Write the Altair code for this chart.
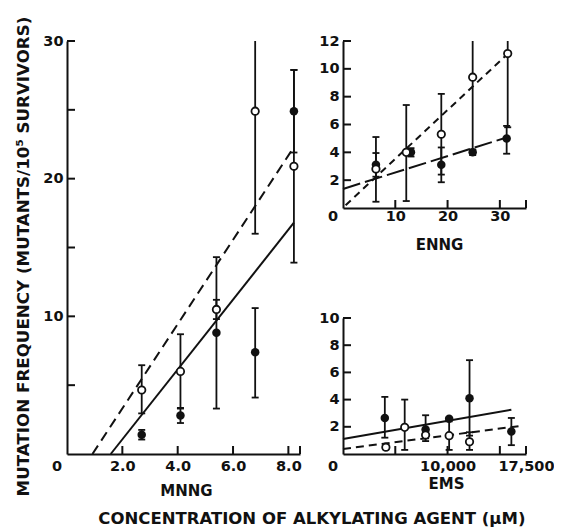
import altair as alt
import pandas as pd

FONT = "DejaVu Sans"
INK = "#111111"

# ---------------- MNNG (left panel) ----------------
mnng_open_x = [2.7, 4.1, 5.4, 6.8, 8.2]
mnng_open_y = [4.65, 6.0, 10.5, 24.9, 20.9]
mnng_open_lo = [2.95, 3.3, 9.8, 16.0, 13.9]
mnng_open_hi = [6.45, 8.7, 11.2, 30.0, 27.9]
mnng_filled_x = [2.7, 4.1, 5.4, 6.8, 8.2]
mnng_filled_y = [1.4, 2.8, 8.8, 7.4, 24.9]
mnng_filled_lo = [1.05, 2.25, 3.3, 4.1, 21.9]
mnng_filled_hi = [1.75, 3.35, 14.3, 10.6, 27.9]
mnng_fit_open_x = [0.92, 8.2]
mnng_fit_open_y = [0.0, 22.3]
mnng_fit_filled_x = [1.58, 8.2]
mnng_fit_filled_y = [0.0, 16.8]
mnng_xdomain = [0, 8.42]
mnng_ydomain = [0, 30]
mnng_xlabels = [2, 4, 6, 8]
mnng_ylabels = [10, 20, 30]
mnng_xticks = [2, 4, 6, 8, 8.42]
mnng_yticks = [5, 10, 15, 20, 25, 30]

# ---------------- ENNG (top right) ----------------
enng_open_x = [6.3, 12.1, 18.8, 24.8, 31.5]
enng_open_y = [2.8, 4.0, 5.3, 9.4, 11.1]
enng_open_lo = [0.45, 0.5, 2.4, 4.0, 5.8]
enng_open_hi = [5.1, 7.4, 8.2, 12.0, 12.0]
enng_filled_x = [6.3, 13.0, 18.8, 24.8, 31.3]
enng_filled_y = [3.1, 4.0, 3.1, 4.0, 5.0]
enng_filled_lo = [2.25, 3.7, 1.85, 3.8, 3.9]
enng_filled_hi = [3.95, 4.3, 4.35, 4.2, 5.9]
enng_fit_open_x = [0.5, 31.0]
enng_fit_open_y = [0.2, 10.9]
enng_fit_filled_x = [0.0, 31.0]
enng_fit_filled_y = [1.37, 5.03]
enng_xdomain = [0, 35]
enng_ydomain = [0, 12]
enng_xlabels = [10, 20, 30]
enng_ylabels = [2, 4, 6, 8, 10, 12]
enng_xticks = [10, 20, 30, 35]
enng_yticks = [2, 4, 6, 8, 10, 12]

# ---------------- EMS (bottom right) ----------------
ems_open_x = [4100, 5900, 7900, 10150, 12100]
ems_open_y = [0.5, 1.96, 1.4, 1.35, 0.9]
ems_open_lo = [0.35, 0.3, 1.15, 0.3, 0.3]
ems_open_hi = [0.65, 4.0, 1.65, 2.4, 1.6]
ems_filled_x = [4000, 7900, 10150, 12100, 16100]
ems_filled_y = [2.65, 1.8, 2.6, 4.1, 1.65]
ems_filled_lo = [1.2, 0.95, 2.6, 1.35, 0.65]
ems_filled_hi = [4.2, 2.85, 2.6, 6.9, 2.65]
ems_fit_open_x = [0, 17100]
ems_fit_open_y = [0.37, 2.08]
ems_fit_filled_x = [0, 16100]
ems_fit_filled_y = [1.1, 3.26]
ems_xdomain = [0, 17500]
ems_ydomain = [0, 10]
ems_xlabels = [10000, 17500]
ems_ylabels = [2, 4, 6, 8, 10]
ems_xticks = [5000, 10000, 15000, 17500]
ems_yticks = [2, 4, 6, 8, 10]


def panel(ox, oy, olo, ohi, fx, fy, flo, fhi, lox, loy, lfx, lfy,
          xdom, ydom, xlabels, ylabels, xticks, yticks, xtitle, xfmt,
          open_dash, filled_dash, width, height, title_x, title_pad,
          label_pad, origin_dy, ytitle=None):
    xscale = alt.Scale(domain=xdom, nice=False, zero=False)
    yscale = alt.Scale(domain=ydom, nice=False, zero=False)
    xaxis = alt.Axis(values=xlabels, format=xfmt, ticks=False, grid=False,
                     domainColor=INK, domainWidth=2, labelFont=FONT,
                     labelFontSize=14.5, labelFontWeight="bold", labelColor=INK,
                     labelPadding=label_pad, labelFlush=False, labelOverlap=False,
                     title=xtitle, titleFont=FONT, titleFontSize=15,
                     titleFontWeight="bold", titleColor=INK, titlePadding=title_pad,
                     titleX=title_x, titleAlign="center")
    yaxis_kw = dict(values=ylabels, ticks=False, grid=False, domainColor=INK,
                    domainWidth=2, labelFont=FONT, labelFontSize=14.5,
                    labelFontWeight="bold", labelColor=INK, labelPadding=4,
                    labelFlush=False, labelOverlap=False)
    if ytitle:
        yaxis = alt.Axis(title=ytitle, titleFont=FONT, titleFontSize=16.7,
                         titleFontWeight="bold", titleColor=INK, titlePadding=10,
                         titleY=215, titleAlign="center", **yaxis_kw)
    else:
        yaxis = alt.Axis(title=None, **yaxis_kw)

    X = lambda f: alt.X(f"{f}:Q", scale=xscale, axis=xaxis)
    Y = lambda f: alt.Y(f"{f}:Q", scale=yscale, axis=yaxis)

    pts_open = pd.DataFrame({"x": ox, "y": oy, "lo": olo, "hi": ohi})
    pts_filled = pd.DataFrame({"x": fx, "y": fy, "lo": flo, "hi": fhi})
    line_open = pd.DataFrame({"x": lox, "y": loy})
    line_filled = pd.DataFrame({"x": lfx, "y": lfy})

    caps = []
    for df in (pts_open, pts_filled):
        for _, r in df.iterrows():
            for v in (r["lo"], r["hi"]):
                if v < ydom[1] and abs(v - r["y"]) > 1e-9:
                    caps.append({"x": r["x"], "y": v})
    caps = pd.DataFrame(caps)

    ytick_df = pd.DataFrame({"x": [xdom[0]] * len(yticks), "y": yticks})
    xtick_df = pd.DataFrame({"x": xticks, "y": [ydom[0]] * len(xticks)})
    origin = pd.DataFrame({"x": [xdom[0]], "y": [ydom[0]], "t": ["0"]})

    lo_kw = dict(color=INK, strokeWidth=2)
    if open_dash:
        lo_kw["strokeDash"] = open_dash
    lf_kw = dict(color=INK, strokeWidth=2)
    if filled_dash:
        lf_kw["strokeDash"] = filled_dash

    layers = [
        alt.Chart(line_open).mark_line(**lo_kw).encode(x=X("x"), y=Y("y")),
        alt.Chart(line_filled).mark_line(**lf_kw).encode(x=X("x"), y=Y("y")),
        alt.Chart(pts_open).mark_rule(color=INK, strokeWidth=1.8).encode(
            x=X("x"), y=Y("lo"), y2="hi"),
        alt.Chart(pts_filled).mark_rule(color=INK, strokeWidth=1.8).encode(
            x=X("x"), y=Y("lo"), y2="hi"),
        alt.Chart(caps).mark_tick(orient="horizontal", size=7, thickness=1.8,
                                  color=INK, opacity=1).encode(x=X("x"), y=Y("y")),
        alt.Chart(pts_filled).mark_point(shape="circle", filled=True, size=72,
                                         color=INK, opacity=1).encode(x=X("x"), y=Y("y")),
        alt.Chart(pts_open).mark_point(shape="circle", filled=True, size=55,
                                       fill="white", stroke=INK, strokeWidth=1.8,
                                       opacity=1).encode(x=X("x"), y=Y("y")),
        alt.Chart(ytick_df).mark_tick(orient="horizontal", size=8, thickness=2,
                                      xOffset=4, color=INK, opacity=1).encode(
            x=X("x"), y=Y("y")),
        alt.Chart(xtick_df).mark_tick(orient="vertical", size=8, thickness=2,
                                      yOffset=-4, color=INK, opacity=1).encode(
            x=X("x"), y=Y("y")),
        alt.Chart(origin).mark_text(font=FONT, fontSize=14.5, fontWeight="bold",
                                    color=INK, dx=-10, dy=origin_dy, align="center",
                                    baseline="middle").encode(
            x=X("x"), y=Y("y"), text="t:N"),
    ]
    return alt.layer(*layers).properties(width=width, height=height)


mnng = panel(mnng_open_x, mnng_open_y, mnng_open_lo, mnng_open_hi,
             mnng_filled_x, mnng_filled_y, mnng_filled_lo, mnng_filled_hi,
             mnng_fit_open_x, mnng_fit_open_y, mnng_fit_filled_x, mnng_fit_filled_y,
             mnng_xdomain, mnng_ydomain, mnng_xlabels, mnng_ylabels,
             mnng_xticks, mnng_yticks, "MNNG", ".1f", [10, 6], None, 233, 413, 119,
             11, 5, 13,
             ytitle="MUTATION FREQUENCY (MUTANTS/10\u2075 SURVIVORS)")

enng = panel(enng_open_x, enng_open_y, enng_open_lo, enng_open_hi,
             enng_filled_x, enng_filled_y, enng_filled_lo, enng_filled_hi,
             enng_fit_open_x, enng_fit_open_y, enng_fit_filled_x, enng_fit_filled_y,
             enng_xdomain, enng_ydomain, enng_xlabels, enng_ylabels,
             enng_xticks, enng_yticks, "ENNG", "d", [7, 5], [18, 5], 183, 167, 96,
             15, 1, 9)

ems = panel(ems_open_x, ems_open_y, ems_open_lo, ems_open_hi,
            ems_filled_x, ems_filled_y, ems_filled_lo, ems_filled_hi,
            ems_fit_open_x, ems_fit_open_y, ems_fit_filled_x, ems_fit_filled_y,
            ems_xdomain, ems_ydomain, ems_xlabels, ems_ylabels,
            ems_xticks, ems_yticks, "EMS", ",d", [8, 5], None, 183, 136, 103,
            4, 5, 13)

right = alt.vconcat(enng, ems, spacing=110, bounds="flush")
chart = alt.hconcat(mnng, right, spacing=43, bounds="flush").properties(
    title=alt.TitleParams("CONCENTRATION OF ALKYLATING AGENT (\u03bcM)", orient="bottom",
                          font=FONT, fontSize=16.5, fontWeight="bold", color=INK,
                          anchor="middle", offset=12, dx=27),
    padding={"left": 7, "top": 8, "right": 0, "bottom": 0},
).configure_view(stroke=None)

chart.save("out.html", embed_options={"renderer": "svg", "actions": False})
